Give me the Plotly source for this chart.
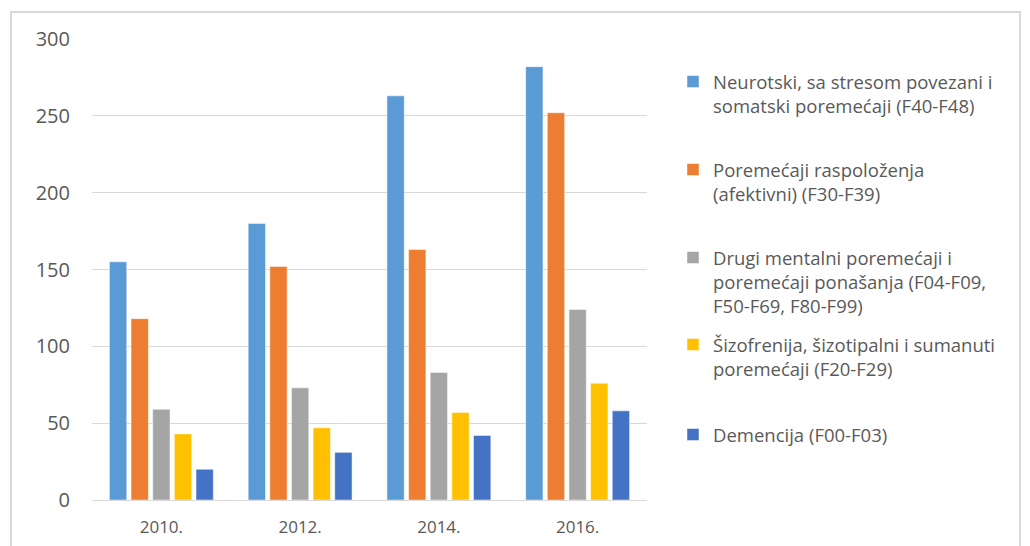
import plotly.graph_objects as go

years = ["2010.", "2012.", "2014.", "2016."]
series_names = [
    "Neurotski, sa stresom povezani i<br>somatski poremećaji (F40-F48)",
    "Poremećaji raspoloženja<br>(afektivni) (F30-F39)",
    "Drugi mentalni poremećaji i<br>poremećaji ponašanja (F04-F09,<br>F50-F69, F80-F99)",
    "Šizofrenija, šizotipalni i sumanuti<br>poremećaji (F20-F29)",
    "Demencija (F00-F03)",
]
neurotski = [155, 180, 263, 282]
raspolozenje = [118, 152, 163, 252]
drugi = [59, 73, 83, 124]
sizofrenija = [43, 47, 57, 76]
demencija = [20, 31, 42, 58]
values = [neurotski, raspolozenje, drugi, sizofrenija, demencija]
colors = ["#5B9BD5", "#ED7D31", "#A5A5A5", "#FFC000", "#4472C4"]
y_ticks = [0, 50, 100, 150, 200, 250, 300]

L, R, T, B = 92, 647, 39, 500
W, H = 1030, 546

def px_x(px):
    return (px - L) / (R - L)

def px_y(py):
    return (B - py) / (B - T)

legend_tops = [63, 151, 239, 326, 416]
fig = go.Figure()
legend_ids = ["legend", "legend2", "legend3", "legend4", "legend5"]
for i, (name, vals, col) in enumerate(zip(series_names, values, colors)):
    fig.add_trace(go.Bar(
        x=years, y=vals, name=name,
        marker=dict(color=col, line=dict(color="rgba(255,255,255,0.6)", width=0.8)),
        legend=legend_ids[i],
    ))

text_color = "#595959"
legend_font = dict(family="Open Sans, sans-serif", size=18.5, color=text_color)
layout_legends = {}
for i, lid in enumerate(legend_ids):
    layout_legends[lid] = dict(
        x=px_x(673), y=px_y(legend_tops[i]), xanchor="left", yanchor="top",
        font=legend_font, bgcolor="rgba(0,0,0,0)", valign="top",
        itemclick=False, itemdoubleclick=False,
    )

fig.update_layout(
    width=W, height=H,
    margin=dict(l=L, r=W - R, t=T, b=H - B),
    paper_bgcolor="white", plot_bgcolor="white",
    barmode="group", bargap=0.22, bargroupgap=0.2,
    font=dict(family="Open Sans, sans-serif", color=text_color),
    showlegend=True,
    xaxis=dict(
        showgrid=False, showline=True, linecolor="#D9D9D9", linewidth=1,
        ticks="", tickfont=dict(size=17, color=text_color), ticklabelstandoff=12,
        automargin=False,
    ),
    yaxis=dict(
        range=[0, 300], tickvals=y_ticks, showgrid=True, gridcolor="#D9D9D9",
        gridwidth=1, zeroline=False, showline=False, ticks="",
        tickfont=dict(size=20, color=text_color), ticklabelstandoff=21,
        automargin=False,
    ),
    shapes=[dict(
        type="rect", xref="paper", yref="paper",
        x0=px_x(11), x1=px_x(1020), y0=px_y(560), y1=px_y(12),
        line=dict(color="#D9D9D9", width=2), fillcolor="rgba(0,0,0,0)", layer="below",
    )],
    **layout_legends,
)

fig.write_html("out.html", config={"displayModeBar": False},
               post_script="document.body.style.margin='0';")
